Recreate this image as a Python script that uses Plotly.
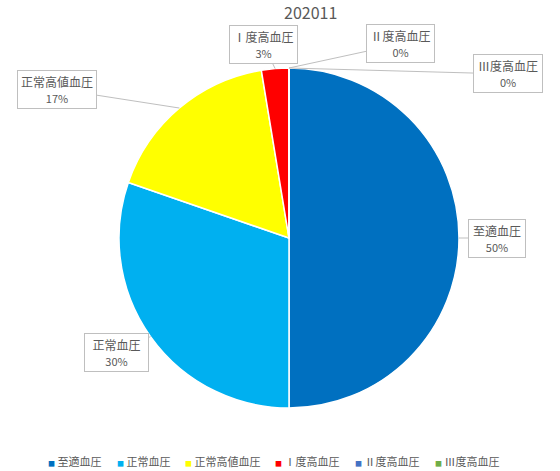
import math
import plotly.graph_objects as go

# data (share of people, %)
labels = ["至適血圧", "正常血圧", "正常高値血圧", "Ⅰ度高血圧", "Ⅱ度高血圧", "Ⅲ度高血圧"]
values = [50.0, 30.3, 17.1, 2.6, 0.0, 0.0]
colors = ["#0070C0", "#00B0F0", "#FFFF00", "#FF0000", "#4472C4", "#70AD47"]
title_text = "202011"

# layout in pixels
W, H = 560, 471
cx, cy, r = 289, 238, 170
# where the label boxes sit (px, from top-left)
box_pos = [(497, 238), (116, 352), (57, 89), (263, 44), (400, 44), (508, 74)]
box_w = [58, 65, 80, 69, 69, 70]
# legend entries (left x of each entry, px)
legend_x = [46, 115, 183, 273, 353, 433]
legend_y = 461

font_fam = "Noto Sans CJK JP, Noto Sans, sans-serif"
grey = "#595959"

fig = go.Figure()
fig.add_trace(go.Pie(
    labels=labels,
    values=values,
    sort=False,
    direction="clockwise",
    rotation=0,
    textinfo="none",
    hoverinfo="label+percent",
    showlegend=False,
    marker=dict(colors=colors, line=dict(color="white", width=1.5)),
    domain=dict(x=[(cx - r) / W, (cx + r) / W],
                y=[1 - (cy + r) / H, 1 - (cy - r) / H]),
))

annotations = []

# callout labels pointing at the middle of each slice
total = sum(values)
cum = 0
for lab, v, (bx, by), bw in zip(labels, values, box_pos, box_w):
    mid = (cum + v / 2) / total * 2 * math.pi
    cum += v
    hx = cx + r * math.sin(mid)
    hy = cy - r * math.cos(mid)
    pct = round(v / total * 100)
    annotations.append(dict(
        x=hx / W, y=1 - hy / H, xref="paper", yref="paper",
        ax=bx - hx, ay=by - hy,
        text=f"{lab}<br><span style='font-size:11px'>{pct}%</span>",
        showarrow=True, arrowhead=0, arrowwidth=1, arrowcolor="#BFBFBF",
        bordercolor="#BFBFBF", borderwidth=1, borderpad=2,
        bgcolor="white", width=bw - 6,
        font=dict(family=font_fam, size=12, color=grey),
    ))

# legend along the bottom, drawn as text entries
for lab, col, lx in zip(labels, colors, legend_x):
    annotations.append(dict(
        x=lx / W, y=1 - legend_y / H, xref="paper", yref="paper",
        xanchor="left", yanchor="middle", showarrow=False,
        text=f"<span style='font-size:7px;color:{col}'>■</span> {lab}",
        font=dict(family=font_fam, size=11, color=grey),
    ))

# title
annotations.append(dict(
    x=310 / W, y=1 - 12 / H, xref="paper", yref="paper",
    xanchor="center", yanchor="middle", showarrow=False,
    text=title_text,
    font=dict(family=font_fam, size=16, color=grey),
))

fig.update_layout(
    width=W, height=H,
    margin=dict(l=0, r=0, t=0, b=0),
    paper_bgcolor="white",
    annotations=annotations,
)

# page body has an 8px margin by default, drop it so the chart fills the window
fig.write_html("out.html", config={"displayModeBar": False},
               post_script="document.body.style.margin='0';")
